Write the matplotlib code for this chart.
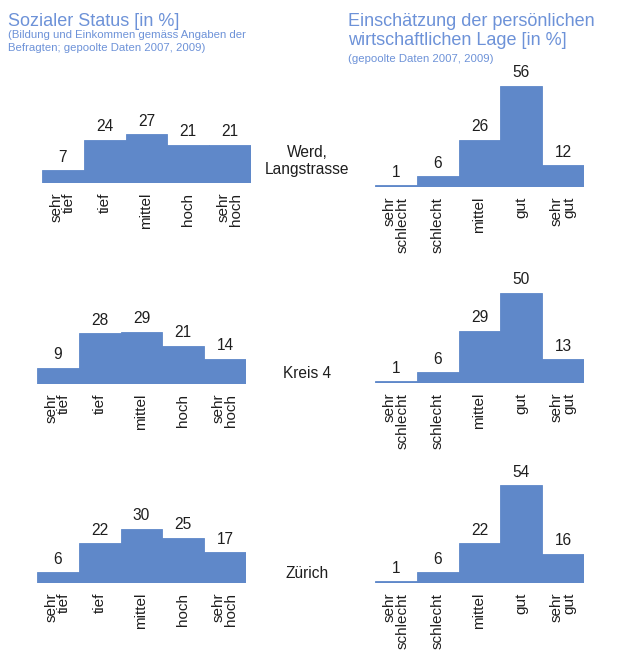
import matplotlib
matplotlib.use("Agg")
import matplotlib.pyplot as plt

plt.rcParams['font.family'] = ['Liberation Sans', 'DejaVu Sans']

# Data
status_labels = ["sehr\ntief", "tief", "mittel", "hoch", "sehr\nhoch"]
lage_labels = ["sehr\nschlecht", "schlecht", "mittel", "gut", "sehr\ngut"]
regions = ["Werd,\nLangstrasse", "Kreis 4", "Zürich"]

status_werd = [7, 24, 27, 21, 21]
status_kreis4 = [9, 28, 29, 21, 14]
status_zuerich = [6, 22, 30, 25, 17]

lage_werd = [1, 6, 26, 56, 12]
lage_kreis4 = [1, 6, 29, 50, 13]
lage_zuerich = [1, 6, 22, 54, 16]

title_left = "Sozialer Status [in %]"
sub_left = ["(Bildung und Einkommen gemäss Angaben der",
            "Befragten; gepoolte Daten 2007, 2009)"]
title_right = ["Einschätzung der persönlichen",
               "wirtschaftlichen Lage [in %]"]
sub_right = "(gepoolte Daten 2007, 2009)"

# Styling
W, H = 632, 669
BAR = "#5f88c9"
TITLE = "#6d92d8"
TEXT = "#1e1e1e"
PX_PER_UNIT = 1.81
YMAX = 60

fig = plt.figure(figsize=(W / 100, H / 100), dpi=100)
fig.patch.set_facecolor("white")


def panel(x0, baseline, values, labels):
    width = 209
    height = YMAX * PX_PER_UNIT
    ax = fig.add_axes([x0 / W, (H - baseline) / H, width / W, height / H])
    ax.bar(range(len(values)), values, width=1.0, color=BAR,
           edgecolor=BAR, linewidth=0.6)
    ax.set_xlim(-0.5, len(values) - 0.5)
    ax.set_ylim(0, YMAX)
    for s in ax.spines.values():
        s.set_visible(False)
    ax.set_yticks([])
    ax.set_xticks(range(len(values)))
    ax.set_xticklabels(labels, rotation=90, ha="center", va="top",
                       multialignment="right", fontsize=11, color=TEXT,
                       linespacing=0.85)
    ax.tick_params(axis="x", length=0, pad=7)
    ax.patch.set_alpha(0)
    for i, v in enumerate(values):
        ax.annotate(str(v), (i, v), xytext=(0, 4), textcoords="offset points",
                    ha="center", va="bottom", fontsize=11.2, color=TEXT)
    return ax


panel(42, 183, status_werd, status_labels)
panel(37, 384, status_kreis4, status_labels)
panel(37, 583, status_zuerich, status_labels)

panel(375, 187, lage_werd, lage_labels)
panel(375, 383, lage_kreis4, lage_labels)
panel(375, 583, lage_zuerich, lage_labels)

# Region names in the middle column
region_y = [161, 373, 574]
for name, y in zip(regions, region_y):
    fig.text(307 / W, 1 - y / H, name, ha="center", va="center",
             fontsize=11.2, color=TEXT, linespacing=1.15)

# Headings
fig.text(8 / W, 1 - 26 / H, title_left, ha="left", va="baseline",
         fontsize=13, color=TITLE)
fig.text(8 / W, 1 - 38 / H, sub_left[0], ha="left", va="baseline",
         fontsize=8.2, color=TITLE)
fig.text(8 / W, 1 - 51 / H, sub_left[1], ha="left", va="baseline",
         fontsize=8.2, color=TITLE)

fig.text(348 / W, 1 - 26 / H, title_right[0], ha="left", va="baseline",
         fontsize=13, color=TITLE)
fig.text(348 / W, 1 - 45 / H, title_right[1], ha="left", va="baseline",
         fontsize=13, color=TITLE)
fig.text(348 / W, 1 - 62 / H, sub_right, ha="left", va="baseline",
         fontsize=8.2, color=TITLE)

fig.savefig("out.png", dpi=100, facecolor="white")
